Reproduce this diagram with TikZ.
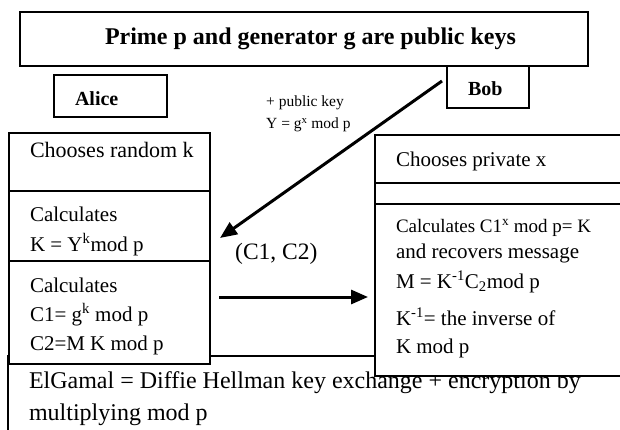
\documentclass[tikz,border=0pt]{standalone}
\usepackage{fontspec}
\setmainfont{Liberation Serif}
\usetikzlibrary{positioning,arrows.meta}

\begin{document}
\begin{tikzpicture}[x=1pt,y=1pt,
   cell/.style={draw,fill=white,line width=1.1pt,inner sep=0pt,outer sep=0pt,
     align=flush left,text width=#1,font=\fontsize{21}{29}\selectfont,
     execute at begin node={\leftskip=21pt\relax}},
   cell/.default=201pt,
   bcell/.style={cell=260pt,line width=1.8pt},
   who/.style={cell=#1,font=\bfseries\fontsize{20}{24}\selectfont},
   sendarrow/.style={-{Triangle[length=17pt,width=14pt]},line width=3pt}]

 \useasboundingbox (0,0) rectangle (620,-430);
 \clip (0,0) rectangle (620,-430);

 \node[cell=568pt,line width=1.3pt,anchor=base west,text height=33pt,text depth=21pt,
   font=\bfseries\fontsize{24}{28}\selectfont,execute at begin node={\leftskip=85pt\relax}]
   (title) at (20,-45) {Prime p and generator g are public keys};

 \node[who=82pt,anchor=base west,text height=30pt,text depth=12pt] (bob) at (447,-96) {Bob};
 \node[who=113pt,anchor=base west,text height=31pt,text depth=11pt] (alice) at (54,-106) {Alice};

 % remark at the bottom, both columns lie over it
 \node[cell=660pt,anchor=base west,line width=1.3pt,text height=32pt,text depth=100pt,
   font=\fontsize{24}{32}\selectfont] (elgamal) at (8,-388)
   {ElGamal = Diffie Hellman key exchange + encryption by\\multiplying mod p};

 % Alice column
 \node[cell,anchor=base west,text height=25pt,text depth=33pt,font=\fontsize{22}{29}\selectfont]
   (a_rand) at (9,-158) {Chooses random k};
 \node[cell,below=0pt of a_rand,text height=31pt,text depth=39pt] (a_key) {Calculates\\K = Y\textsuperscript{k}mod p};
 \node[cell,below=0pt of a_key,text height=31pt,text depth=72pt] (a_cipher)
   {Calculates\\C1= g\textsuperscript{k} mod p\\C2=M K mod p};

 % Bob column
 \node[bcell,anchor=base west,text height=32pt,text depth=16pt] (b_priv) at (375,-167) {Chooses private x};
 \node[bcell,below=0pt of b_priv,text height=21pt,text depth=0pt] (b_gap) {};
 \node[bcell,below=0pt of b_gap,text height=28pt,text depth=144pt] (b_decrypt)
   {{\fontsize{19}{26}\selectfont Calculates C1\textsuperscript{x} mod p= K}\\[-3pt]
    and recovers message\\[1pt]
    M = K\textsuperscript{-1}C\textsubscript{2}mod p\\[8pt]
    K\textsuperscript{-1}= the inverse of\\[-1pt]
    K mod p};

 \node[anchor=base west,inner sep=0pt,align=flush left,text width=100pt,
   font=\fontsize{15.5}{22}\selectfont] (pubkey) at (266,-107) {+ public key\\Y = g\textsuperscript{x} mod p};
 \node[anchor=base west,inner sep=0pt,font=\fontsize{23.5}{28}\selectfont] (pair) at (235,-259) {(C1, C2)};

 \coordinate (key_from) at (442,-81);
 \coordinate (key_to) at (220,-238);
 \draw[sendarrow] (key_from) -- (key_to);

 \coordinate (pair_from) at (219,-297);
 \draw[sendarrow,shorten >=7pt] (pair_from) -- (pair_from -| b_decrypt.west);

\end{tikzpicture}
\end{document}
